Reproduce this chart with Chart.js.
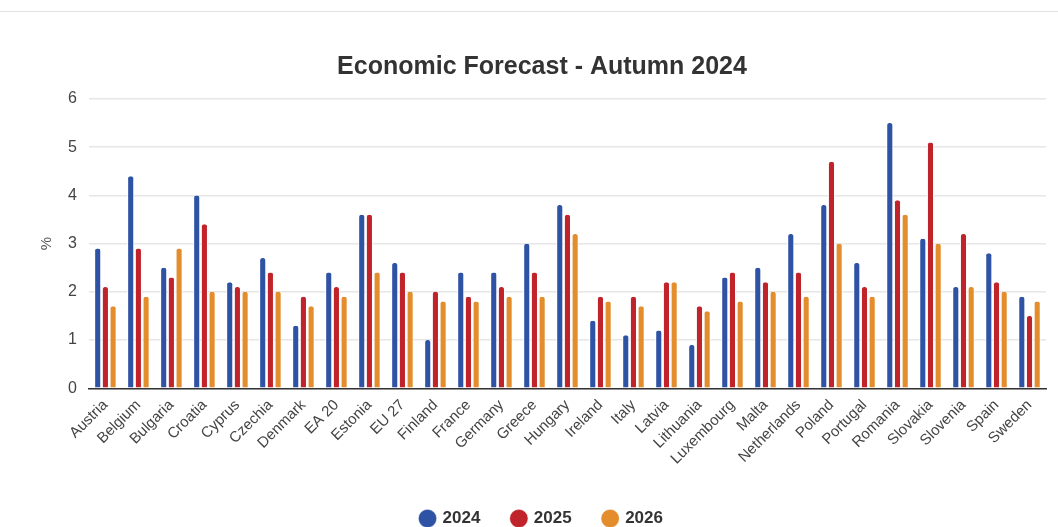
<!DOCTYPE html>
<html>
<head>
<meta charset="utf-8">
<script src="https://cdn.jsdelivr.net/npm/chart.js@4"></script>
<style>
  html, body { margin: 0; padding: 0; background: #fff; }
  #wrap { position: relative; width: 1058px; height: 527px; }
  #topline { position: absolute; left: 0; top: 11px; width: 1058px; height: 1px; background: #e2e2e2; }
</style>
</head>
<body>
<div id="wrap">
  <div id="topline"></div>
  <canvas id="chart" width="1058" height="527"></canvas>
</div>
<script>
'use strict';
// カテゴリ
const COUNTRIES = ['Austria', 'Belgium', 'Bulgaria', 'Croatia', 'Cyprus', 'Czechia', 'Denmark', 'EA 20',
  'Estonia', 'EU 27', 'Finland', 'France', 'Germany', 'Greece', 'Hungary', 'Ireland', 'Italy', 'Latvia',
  'Lithuania', 'Luxembourg', 'Malta', 'Netherlands', 'Poland', 'Portugal', 'Romania', 'Slovakia',
  'Slovenia', 'Spain', 'Sweden'];

// 系列データ (%)
const Y2024 = [2.9, 4.4, 2.5, 4.0, 2.2, 2.7, 1.3, 2.4, 3.6, 2.6, 1.0, 2.4, 2.4, 3.0, 3.8, 1.4, 1.1, 1.2,
  0.9, 2.3, 2.5, 3.2, 3.8, 2.6, 5.5, 3.1, 2.1, 2.8, 1.9];
const Y2025 = [2.1, 2.9, 2.3, 3.4, 2.1, 2.4, 1.9, 2.1, 3.6, 2.4, 2.0, 1.9, 2.1, 2.4, 3.6, 1.9, 1.9, 2.2,
  1.7, 2.4, 2.2, 2.4, 4.7, 2.1, 3.9, 5.1, 3.2, 2.2, 1.5];
const Y2026 = [1.7, 1.9, 2.9, 2.0, 2.0, 2.0, 1.7, 1.9, 2.4, 2.0, 1.8, 1.8, 1.9, 1.9, 3.2, 1.8, 1.7, 2.2,
  1.6, 1.8, 2.0, 1.9, 3.0, 1.9, 3.6, 3.0, 2.1, 2.0, 1.8];

// 目盛り
const Y_TICKS = [0, 1, 2, 3, 4, 5, 6];

// 色
const COLORS = { y2024: '#2E52A4', y2025: '#C1232B', y2026: '#E38D2C' };
const FONT = 'Liberation Sans, Arial, sans-serif';

function makeDataset(label, data, color) {
  return {
    label: label,
    data: data,
    backgroundColor: color,
    borderColor: '#ffffff',
    borderWidth: { left: 1, right: 1, top: 0, bottom: 0 },
    borderSkipped: 'bottom',
    borderRadius: { topLeft: 3, topRight: 3 },
    barPercentage: 0.92,
    categoryPercentage: 0.7,
  };
}

// 凡例を少し下にずらす
const legendShift = {
  id: 'legendShift',
  afterLayout(chart) {
    chart.legend.top += 10;
    chart.legend.bottom += 10;
  },
};

const ctx = document.getElementById('chart');
new Chart(ctx, {
  type: 'bar',
  data: {
    labels: COUNTRIES,
    datasets: [
      makeDataset('2024', Y2024, COLORS.y2024),
      makeDataset('2025', Y2025, COLORS.y2025),
      makeDataset('2026', Y2026, COLORS.y2026),
    ],
  },
  plugins: [legendShift],
  options: {
    responsive: false,
    animation: false,
    layout: { padding: { left: 38, right: 12, top: 52, bottom: 0 } },
    plugins: {
      title: {
        display: true,
        text: 'Economic Forecast - Autumn 2024',
        color: '#333333',
        font: { family: FONT, size: 25, weight: 'bold' },
        padding: { top: 0, bottom: 17 },
      },
      legend: {
        position: 'bottom',
        labels: {
          usePointStyle: true,
          pointStyle: 'circle',
          boxWidth: 13,
          boxHeight: 13,
          padding: 32,
          color: '#333333',
          font: { family: FONT, size: 17, weight: 'bold' },
        },
      },
      tooltip: { enabled: false },
    },
    scales: {
      x: {
        grid: { display: false },
        border: { display: true, color: '#333333', width: 1.5 },
        ticks: {
          color: '#444444',
          minRotation: 45,
          maxRotation: 45,
          autoSkip: false,
          padding: 0,
          font: { family: FONT, size: 15 },
        },
      },
      y: {
        min: 0,
        max: 6,
        afterBuildTicks: (axis) => { axis.ticks = Y_TICKS.map((v) => ({ value: v })); },
        grid: { color: '#e6e6e6', lineWidth: 1.5, drawTicks: false },
        border: { display: false },
        title: {
          display: true,
          text: '%',
          color: '#555555',
          font: { family: FONT, size: 15 },
          padding: { top: 0, bottom: 0 },
        },
        ticks: {
          color: '#444444',
          padding: 12,
          font: { family: FONT, size: 16 },
        },
      },
    },
  },
});
</script>
</body>
</html>
